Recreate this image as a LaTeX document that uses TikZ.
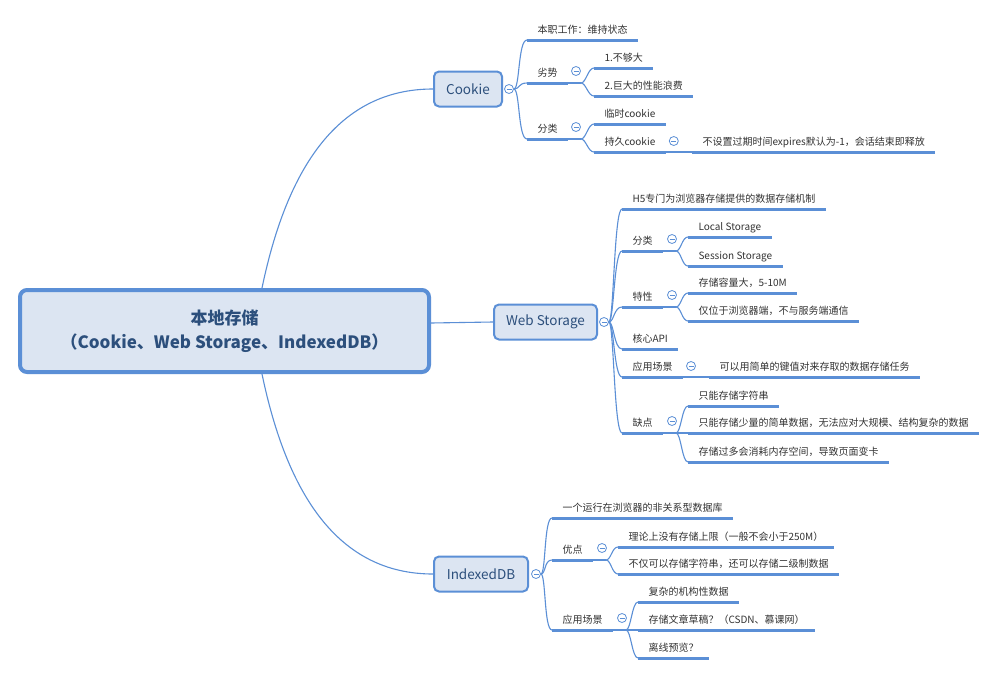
\documentclass[tikz,border=0pt]{standalone}
\usepackage[]{fontspec}
\usepackage[]{xcolor}
\setmainfont{Noto Sans CJK SC}
\definecolor{mmline}{HTML}{5B8FD6}
\definecolor{mmfill}{HTML}{DCE5F2}
\definecolor{mmtext}{HTML}{2C4F7C}
\definecolor{leaftext}{HTML}{333333}
\tikzset{rootbox/.style = {draw=mmline, fill=mmfill, line width=4, rounded corners=7, minimum width=409, minimum height=82, align=center, text=mmtext, font=\fontsize{17}{24}\selectfont\bfseries}}
\tikzset{topic/.style = {draw=mmline, fill=mmfill, line width=2, rounded corners=5, minimum height=35, inner xsep=0, text=mmtext, font=\fontsize{13.5}{15}\selectfont}}
\tikzset{uline/.style = {draw=mmline, line width=3}}
\tikzset{leaf/.style = {anchor=south west, outer sep=0, inner xsep=10.5, inner ysep=4.7, text height=8, text depth=2, text=leaftext, font=\fontsize{10}{12}\selectfont, append after command={(\tikzlastnode.south west) edge [uline] (\tikzlastnode.south east)}}}
\tikzset{conn/.style = {draw=mmline, line width=1.1}}
\tikzset{fold/.style = {circle, draw=mmline, fill=white, line width=0.8, minimum size=9, inner sep=0, path picture={\draw [mmline, line width=0.8] ([xshift=-2.5]path picture bounding box.center) -- ([xshift=2.5]path picture bounding box.center);}}}

\begin{document}
\begin{tikzpicture}[x=1pt, y=-1pt]
            \useasboundingbox [fill=white] (0,0) rectangle (999,675);
            \node [rootbox] (root) at (224.5,331) {本地存储\\（Cookie、Web Storage、IndexedDB）};
            \node [topic, minimum width=68] (cookie) at (468,89) {Cookie};
            \node [topic, minimum width=103] (webst) at (545.5,322) {Web Storage};
            \node [topic, minimum width=94] (idb) at (481,574) {IndexedDB};
            \draw [conn] ([xshift=37.5]root.north) .. controls +(25,-120) and +(-95,0) .. (cookie.west);
            \draw [conn] ([yshift=8]root.east) -- (webst.west);
            \draw [conn] ([xshift=37.5]root.south) .. controls +(25,120) and +(-95,0) .. (idb.west);
            \node [fold] (cookief) at ([xshift=6]cookie.east) {};
            \node [fold] (webstf) at ([xshift=6]webst.east) {};
            \node [fold] (idbf) at ([xshift=7]idb.east) {};

            \node [leaf] (c1) at (527,40) {本职工作：维持状态};
            \node [leaf] (c2) at (527,83) {劣势};
            \node [leaf] (c21) at (594,68) {1.不够大};
            \node [leaf] (c22) at (594,96) {2.巨大的性能浪费};
            \node [leaf] (c3) at (527,139) {分类};
            \node [leaf] (c31) at (594,124) {临时cookie};
            \node [leaf] (c32) at (594,152) {持久cookie};
            \node [leaf] (c321) at (692,152) {不设置过期时间expires默认为-1，会话结束即释放};
            \node [fold] (c2f) at ([xshift=8,yshift=12]c2.south east) {};
            \node [fold] (c3f) at ([xshift=8,yshift=12]c3.south east) {};
            \node [fold] (c32f) at ([xshift=8,yshift=11]c32.south east) {};
            \coordinate (c2h) at ([xshift=13]c2.south east);
            \coordinate (c3h) at ([xshift=13]c3.south east);
            \draw [conn] (cookief.east) .. controls +(6,0) and +(-9,0) .. (c1.south west);
            \draw [conn] (cookief.east) .. controls +(6,0) and +(-9,0) .. (c2.south west);
            \draw [conn] (cookief.east) .. controls +(6,0) and +(-9,0) .. (c3.south west);
            \draw [conn] (c2.south east) -- (c2h);
            \draw [conn] (c2h) .. controls +(5,0) and +(-6,0) .. (c21.south west);
            \draw [conn] (c2h) .. controls +(5,0) and +(-6,0) .. (c22.south west);
            \draw [conn] (c3.south east) -- (c3h);
            \draw [conn] (c3h) .. controls +(5,0) and +(-6,0) .. (c31.south west);
            \draw [conn] (c3h) .. controls +(5,0) and +(-6,0) .. (c32.south west);
            \draw [conn] (c32.south east) -- (c321.south west);

            \node [leaf] (w1) at (622,209) {H5专门为浏览器存储提供的数据存储机制};
            \node [leaf] (w2) at (622,251) {分类};
            \node [leaf] (w21) at (688,237) {Local Storage};
            \node [leaf] (w22) at (688,266) {Session Storage};
            \node [leaf] (w3) at (622,307) {特性};
            \node [leaf] (w31) at (688,293) {存储容量大，5-10M};
            \node [leaf] (w32) at (688,321) {仅位于浏览器端，不与服务端通信};
            \node [leaf] (w4) at (622,349) {核心API};
            \node [leaf] (w5) at (622,377) {应用场景};
            \node [leaf] (w51) at (709,377) {可以用简单的键值对来存取的数据存储任务};
            \node [leaf] (w6) at (622,433) {缺点};
            \node [leaf] (w61) at (688,406) {只能存储字符串};
            \node [leaf] (w62) at (688,433) {只能存储少量的简单数据，无法应对大规模、结构复杂的数据};
            \node [leaf] (w63) at (688,462) {存储过多会消耗内存空间，导致页面变卡};
            \node [fold] (w2f) at ([xshift=9,yshift=12]w2.south east) {};
            \node [fold] (w3f) at ([xshift=9,yshift=12]w3.south east) {};
            \node [fold] (w5f) at ([xshift=8,yshift=11]w5.south east) {};
            \node [fold] (w6f) at ([xshift=9,yshift=12]w6.south east) {};
            \coordinate (w2h) at ([xshift=13]w2.south east);
            \coordinate (w3h) at ([xshift=13]w3.south east);
            \coordinate (w6h) at ([xshift=13]w6.south east);
            \draw [conn] (webstf.east) .. controls +(5,0) and +(-8,0) .. (w1.south west);
            \draw [conn] (webstf.east) .. controls +(5,0) and +(-8,0) .. (w2.south west);
            \draw [conn] (webstf.east) .. controls +(5,0) and +(-8,0) .. (w3.south west);
            \draw [conn] (webstf.east) .. controls +(5,0) and +(-8,0) .. (w4.south west);
            \draw [conn] (webstf.east) .. controls +(5,0) and +(-8,0) .. (w5.south west);
            \draw [conn] (webstf.east) .. controls +(5,0) and +(-8,0) .. (w6.south west);
            \draw [conn] (w2.south east) -- (w2h);
            \draw [conn] (w2h) .. controls +(5,0) and +(-6,0) .. (w21.south west);
            \draw [conn] (w2h) .. controls +(5,0) and +(-6,0) .. (w22.south west);
            \draw [conn] (w3.south east) -- (w3h);
            \draw [conn] (w3h) .. controls +(5,0) and +(-6,0) .. (w31.south west);
            \draw [conn] (w3h) .. controls +(5,0) and +(-6,0) .. (w32.south west);
            \draw [conn] (w5.south east) -- (w51.south west);
            \draw [conn] (w6.south east) -- (w6h);
            \draw [conn] (w6h) .. controls +(5,0) and +(-6,0) .. (w61.south west);
            \draw [conn] (w6h) -- (w62.south west);
            \draw [conn] (w6h) .. controls +(5,0) and +(-6,0) .. (w63.south west);

            \node [leaf] (i1) at (552,518) {一个运行在浏览器的非关系型数据库};
            \node [leaf] (i2) at (552,560) {优点};
            \node [leaf] (i21) at (618,547) {理论上没有存储上限（一般不会小于250M）};
            \node [leaf] (i22) at (618,574) {不仅可以存储字符串，还可以存储二级制数据};
            \node [leaf] (i3) at (552,630) {应用场景};
            \node [leaf] (i31) at (638,602) {复杂的机构性数据};
            \node [leaf] (i32) at (638,630) {存储文章草稿？（CSDN、慕课网）};
            \node [leaf] (i33) at (638,658) {离线预览？};
            \node [fold] (i2f) at ([xshift=9,yshift=12]i2.south east) {};
            \node [fold] (i3f) at ([xshift=9,yshift=12]i3.south east) {};
            \coordinate (i2h) at ([xshift=13]i2.south east);
            \coordinate (i3h) at ([xshift=13]i3.south east);
            \draw [conn] (idbf.east) .. controls +(5,0) and +(-8,0) .. (i1.south west);
            \draw [conn] (idbf.east) .. controls +(5,0) and +(-8,0) .. (i2.south west);
            \draw [conn] (idbf.east) .. controls +(5,0) and +(-8,0) .. (i3.south west);
            \draw [conn] (i2.south east) -- (i2h);
            \draw [conn] (i2h) .. controls +(5,0) and +(-6,0) .. (i21.south west);
            \draw [conn] (i2h) .. controls +(5,0) and +(-6,0) .. (i22.south west);
            \draw [conn] (i3.south east) -- (i3h);
            \draw [conn] (i3h) .. controls +(5,0) and +(-6,0) .. (i31.south west);
            \draw [conn] (i3h) -- (i32.south west);
            \draw [conn] (i3h) .. controls +(5,0) and +(-6,0) .. (i33.south west);
        \end{tikzpicture}
\end{document}
